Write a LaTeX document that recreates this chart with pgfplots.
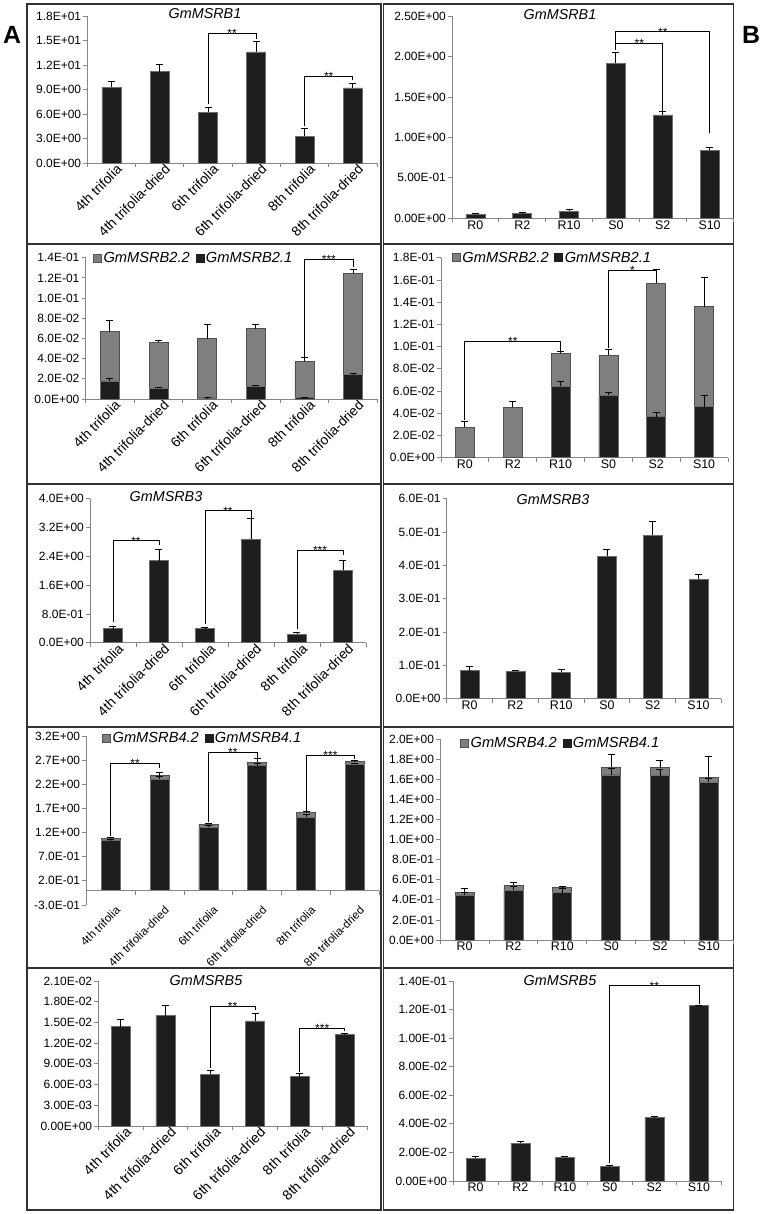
\documentclass[border=0pt]{standalone}
\usepackage{fontspec}
\setmainfont{Liberation Sans}
\usepackage{pgfplots}
\pgfplotsset{compat=1.18}
\definecolor{axisgray}{HTML}{868686}
\definecolor{bardark}{HTML}{1E1E1E}
\definecolor{baredge}{HTML}{6E6E6E}
\definecolor{bargray}{HTML}{7F7F7F}
\definecolor{bargrayedge}{HTML}{505050}
\definecolor{frame}{HTML}{333333}
\pgfplotsset{
  panel/.style={
    scale only axis, anchor=south west, clip=false,
    axis x line*=bottom, axis y line*=left,
    xtick pos=left, ytick pos=left,
    axis line style={draw=axisgray, line width=0.8bp},
    tick style={draw=axisgray, line width=0.8bp},
    tick align=outside, major tick length=4bp,
    scaled y ticks=false,
    xmin=0.5, xmax=6.5,
    xtick={0.5,1.5,2.5,3.5,4.5,5.5,6.5}, xticklabels={,,,,,,},
    extra x ticks={1,2,3,4,5,6},
    extra x tick style={major tick length=0pt},
    yticklabel style={font=\fontsize{12}{14}\selectfont, inner sep=2bp},
  },
  leftcats/.style={
    extra x tick labels={4th trifolia,4th trifolia-dried,6th trifolia,6th trifolia-dried,8th trifolia,8th trifolia-dried},
    xticklabel style={rotate=45, anchor=north east, font=\fontsize{#1}{15}\selectfont, inner sep=1bp, xshift=4bp, yshift=-2bp}},
  leftcats/.default=13.8,
  rightcats/.style={
    extra x tick labels={R0,R2,R10,S0,S2,S10},
    xticklabel style={font=\fontsize{12.5}{14}\selectfont, inner sep=2bp}},
  errstyle/.style={
    error bars/y dir=plus, error bars/y explicit,
    error bars/error bar style={black, line width=0.9bp},
    error bars/error mark options={black, rotate=90, mark size=3.5bp, line width=0.9bp}},
  darkbar/.style={ybar, bar width=19bp, bar shift=0pt, fill=bardark, draw=baredge, line width=0.6bp, errstyle,
    legend image code/.code={\draw[fill=bardark, draw=bardark, line width=0.5bp] (0bp,-4bp) rectangle (8bp,4bp);}},
  graybar/.style={ybar, bar width=19bp, bar shift=0pt, fill=bargray, draw=bargrayedge, line width=0.6bp, errstyle,
    legend image code/.code={\draw[fill=bargray, draw=bargrayedge, line width=0.5bp] (0bp,-4bp) rectangle (8bp,4bp);}},
  leg/.style={legend style={draw=none, fill=none, anchor=west, legend columns=2,
    inner sep=0pt, nodes={inner sep=1.8bp},
    /tikz/every even column/.append style={column sep=4bp}}},
}
\newcommand{\sig}[7]{%
  \draw[black, line width=0.9bp] (axis cs:#1,#4) -- (axis cs:#1,#3) -- (axis cs:#2,#3) -- (axis cs:#2,#5);
  \node[font=\fontsize{12}{12}\selectfont, anchor=base, yshift=-4.5bp, inner sep=0pt] at (axis cs:#6,#3) {#7};}
\newcommand{\ptitle}[3]{\node[font=\fontsize{14.4}{15}\selectfont\itshape, inner sep=0pt] at (#1bp,-#2bp) {#3};}
\newcommand{\ztick}[1]{\draw[axisgray, line width=0.8bp] (axis cs:#1,0) -- ([yshift=-4bp]axis cs:#1,0);}
\newcommand{\lt}[1]{\fontsize{14.7}{14.7}\selectfont\itshape #1}
\begin{document}
\begin{tikzpicture}
\useasboundingbox (0,0) rectangle (762bp,-1214bp);
% frames
\foreach \ya/\yb in {4/244,244/484,484/727,727/968,968/1210}{
  \draw[frame, line width=1.2bp] (27bp,-\ya bp) rectangle (381bp,-\yb bp);
  \draw[frame, line width=1.2bp] (383.5bp,-\ya bp) rectangle (733.5bp,-\yb bp);
}
\node[font=\fontsize{25}{25}\selectfont\bfseries, inner sep=0pt] at (12bp,-35bp) {A};
\node[font=\fontsize{25}{25}\selectfont\bfseries, inner sep=0pt] at (751bp,-35bp) {B};

% ---------- A1 ----------
\begin{axis}[panel, leftcats, at={(87.3bp,-163bp)}, width=289.7bp, height=147bp,
  ymin=0, ymax=18, ytick={0,3,6,9,12,15,18},
  yticklabels={0.0E+00,3.0E+00,6.0E+00,9.0E+00,1.2E+01,1.5E+01,1.8E+01}]
\addplot[darkbar] coordinates {(1,9.3)+-(0,0.65) (2,11.2)+-(0,0.9) (3,6.2)+-(0,0.6) (4,13.6)+-(0,1.25) (5,3.3)+-(0,0.9) (6,9.2)+-(0,0.55)};
\sig{3}{4}{15.9}{7.25}{15.15}{3.5}{**}
\sig{5}{6}{10.6}{4.5}{10.2}{5.5}{**}
\end{axis}
\ptitle{205}{14}{GmMSRB1}

% ---------- B1 ----------
\begin{axis}[panel, rightcats, at={(452bp,-218.3bp)}, width=281bp, height=202.3bp,
  ymin=0, ymax=2.5, ytick={0,0.5,1,1.5,2,2.5},
  yticklabels={0.00E+00,5.00E-01,1.00E+00,1.50E+00,2.00E+00,2.50E+00}]
\addplot[darkbar] coordinates {(1,0.05)+-(0,0.01) (2,0.06)+-(0,0.008) (3,0.09)+-(0,0.015) (4,1.915)+-(0,0.13) (5,1.277)+-(0,0.04) (6,0.84)+-(0,0.037)};
\sig{4}{6}{2.306}{2.08}{1.05}{5}{**}
\sig{4}{5}{2.162}{2.08}{1.30}{4.5}{**}
\end{axis}
\ptitle{560}{15}{GmMSRB1}

% ---------- A2 ----------
\begin{axis}[panel, leftcats, at={(85.5bp,-399bp)}, width=292bp, height=141.3bp,
  ymin=0, ymax=0.14, ytick={0,0.02,0.04,0.06,0.08,0.1,0.12,0.14},
  yticklabels={0.0E+00,2.0E-02,4.0E-02,6.0E-02,8.0E-02,1.0E-01,1.2E-01,1.4E-01},
  leg, legend style={at={(0.026,0.998)}}]
\addplot[graybar] coordinates {(1,0.0667)+-(0,0.011) (2,0.0561)+-(0,0.0017) (3,0.0598)+-(0,0.0145) (4,0.0697)+-(0,0.0043) (5,0.0376)+-(0,0.0037) (6,0.1248)+-(0,0.004)};
\addlegendentry{\lt{GmMSRB2.2}}
\addplot[darkbar] coordinates {(1,0.018)+-(0,0.0023) (2,0.0109)+-(0,0.001) (3,0.001)+-(0,0.0003) (4,0.0125)+-(0,0.001) (5,0.0013)+-(0,0.0003) (6,0.0241)+-(0,0.0013)};
\addlegendentry{\lt{GmMSRB2.1}}
\sig{5}{6}{0.1383}{0.042}{0.131}{5.5}{***}
\end{axis}

% ---------- B2 ----------
\begin{axis}[panel, rightcats, at={(441bp,-457.7bp)}, width=287bp, height=200bp,
  ymin=0, ymax=0.18, ytick={0,0.02,0.04,0.06,0.08,0.1,0.12,0.14,0.16,0.18},
  yticklabels={0.0E+00,2.0E-02,4.0E-02,6.0E-02,8.0E-02,1.0E-01,1.2E-01,1.4E-01,1.6E-01,1.8E-01},
  leg, legend style={at={(0.038,1.0)}}]
\addplot[graybar] coordinates {(1,0.0273)+-(0,0.0057) (2,0.0453)+-(0,0.0057) (3,0.0942)+-(0,0.0015) (4,0.0921)+-(0,0.0057) (5,0.1569)+-(0,0.0126) (6,0.1359)+-(0,0.0261)};
\addlegendentry{\lt{GmMSRB2.2}}
\addplot[darkbar] coordinates {(3,0.0645)+-(0,0.0045) (4,0.0561)+-(0,0.0027) (5,0.0369)+-(0,0.0039) (6,0.0459)+-(0,0.0099)};
\addlegendentry{\lt{GmMSRB2.1}}
\sig{1}{3}{0.105}{0.034}{0.0958}{2}{**}
\sig{4}{5}{0.1689}{0.0985}{0.1695}{4.5}{*}
\end{axis}

% ---------- A3 ----------
\begin{axis}[panel, leftcats, at={(90bp,-642.7bp)}, width=276bp, height=144bp,
  ymin=0, ymax=4, ytick={0,0.8,1.6,2.4,3.2,4.0},
  yticklabels={0.0E+00,8.0E-01,1.6E+00,2.4E+00,3.2E+00,4.0E+00}]
\addplot[darkbar] coordinates {(1,0.389)+-(0,0.055) (2,2.278)+-(0,0.315) (3,0.389)+-(0,0.037) (4,2.87)+-(0,0.574) (5,0.241)+-(0,0.046) (6,2.019)+-(0,0.277)};
\sig{1}{2}{2.833}{0.58}{2.71}{1.5}{**}
\sig{3}{4}{3.667}{0.52}{3.46}{3.5}{**}
\sig{5}{6}{2.574}{0.37}{2.435}{5.5}{***}
\end{axis}
\ptitle{166}{497}{GmMSRB3}

% ---------- B3 ----------
\begin{axis}[panel, rightcats, at={(446.8bp,-698.7bp)}, width=274.6bp, height=200bp,
  ymin=0, ymax=0.6, ytick={0,0.1,0.2,0.3,0.4,0.5,0.6},
  yticklabels={0.0E+00,1.0E-01,2.0E-01,3.0E-01,4.0E-01,5.0E-01,6.0E-01}]
\addplot[darkbar] coordinates {(1,0.084)+-(0,0.014) (2,0.083)+-(0,0.003) (3,0.079)+-(0,0.009) (4,0.428)+-(0,0.021) (5,0.491)+-(0,0.041) (6,0.359)+-(0,0.015)};
\end{axis}
\ptitle{553}{500}{GmMSRB3}

% ---------- A4 ----------
\begin{axis}[panel, leftcats=11.6, at={(86.3bp,-905bp)}, width=293bp, height=169bp,
  x axis line style={draw=none}, xtick=\empty,
  ymin=-0.3, ymax=3.2, ytick={-0.3,0.2,0.7,1.2,1.7,2.2,2.7,3.2},
  yticklabels={-3.0E-01,2.0E-01,7.0E-01,1.2E+00,1.7E+00,2.2E+00,2.7E+00,3.2E+00},
  leg, legend style={at={(0.054,0.988)}}]
\addplot[graybar] coordinates {(1,1.080)+-(0,0.028) (2,2.378)+-(0,0.062) (3,1.377)+-(0,0.021) (4,2.654)+-(0,0.083) (5,1.612)+-(0,0.021) (6,2.668)+-(0,0.021)};
\addlegendentry{\lt{GmMSRB4.2}}
\addplot[darkbar] coordinates {(1,1.032)+-(0,0.03) (2,2.309)+-(0,0.05) (3,1.308)+-(0,0.04) (4,2.585)+-(0,0.05) (5,1.522)+-(0,0.05) (6,2.613)+-(0,0.02)};
\addlegendentry{\lt{GmMSRB4.1}}
\draw[axisgray, line width=0.8bp] (axis cs:0.5,0) -- (axis cs:6.5,0);
\ztick{1.5}\ztick{2.5}\ztick{3.5}\ztick{4.5}\ztick{5.5}\ztick{6.5}
\sig{1}{2}{2.633}{1.13}{2.54}{1.5}{**}
\sig{3}{4}{2.861}{1.42}{2.75}{3.5}{**}
\sig{5}{6}{2.806}{1.655}{2.72}{5.5}{***}
\end{axis}

% ---------- B4 ----------
\begin{axis}[panel, rightcats, at={(440.2bp,-940bp)}, width=293bp, height=201bp,
  ymin=0, ymax=2.0, ytick={0,0.2,0.4,0.6,0.8,1.0,1.2,1.4,1.6,1.8,2.0},
  yticklabels={0.0E+00,2.0E-01,4.0E-01,6.0E-01,8.0E-01,1.0E+00,1.2E+00,1.4E+00,1.6E+00,1.8E+00,2.0E+00},
  leg, legend style={at={(0.068,0.980)}}]
\addplot[graybar] coordinates {(1,0.474)+-(0,0.04) (2,0.544)+-(0,0.03) (3,0.524)+-(0,0.007) (4,1.718)+-(0,0.129) (5,1.715)+-(0,0.076) (6,1.619)+-(0,0.205)};
\addlegendentry{\lt{GmMSRB4.2}}
\addplot[darkbar] coordinates {(1,0.448)+-(0,0.03) (2,0.4975)+-(0,0.04) (3,0.471)+-(0,0.04) (4,1.642)+-(0,0.07) (5,1.635)+-(0,0.06) (6,1.569)+-(0,0.04)};
\addlegendentry{\lt{GmMSRB4.1}}
\end{axis}

% ---------- A5 ----------
\begin{axis}[panel, leftcats=14, at={(98.3bp,-1126bp)}, width=268.7bp, height=145bp,
  ymin=0, ymax=0.021, ytick={0,0.003,0.006,0.009,0.012,0.015,0.018,0.021},
  yticklabels={0.00E+00,3.00E-03,6.00E-03,9.00E-03,1.20E-02,1.50E-02,1.80E-02,2.10E-02}]
\addplot[darkbar] coordinates {(1,0.01439)+-(0,0.0011) (2,0.01598)+-(0,0.00145) (3,0.00748)+-(0,0.00058) (4,0.01521)+-(0,0.0011) (5,0.00714)+-(0,0.00054) (6,0.01323)+-(0,0.0002)};
\sig{3}{4}{0.01738}{0.00845}{0.0168}{3.5}{**}
\sig{5}{6}{0.01415}{0.0078}{0.01376}{5.5}{***}
\end{axis}
\ptitle{206}{981}{GmMSRB5}

% ---------- B5 ----------
\begin{axis}[panel, rightcats, at={(453.3bp,-1181bp)}, width=268bp, height=200bp,
  ymin=0, ymax=0.14, ytick={0,0.02,0.04,0.06,0.08,0.1,0.12,0.14},
  yticklabels={0.00E+00,2.00E-02,4.00E-02,6.00E-02,8.00E-02,1.00E-01,1.20E-01,1.40E-01}]
\addplot[darkbar] coordinates {(1,0.0159)+-(0,0.0016) (2,0.0264)+-(0,0.0016) (3,0.0168)+-(0,0.0007) (4,0.0100)+-(0,0.0012) (5,0.0446)+-(0,0.0004) (6,0.1227)+-(0,0.0003)};
\sig{4}{6}{0.1367}{0.0124}{0.1236}{5}{**}
\end{axis}
\ptitle{560}{981}{GmMSRB5}
\end{tikzpicture}
\end{document}
